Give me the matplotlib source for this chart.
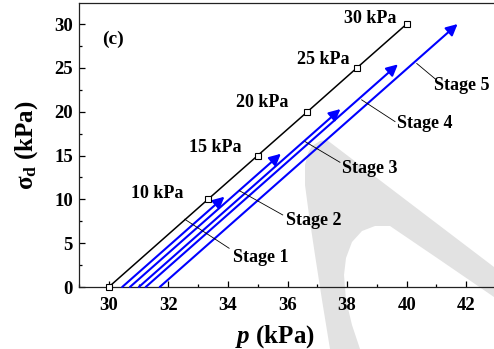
import matplotlib
matplotlib.use("Agg")
import matplotlib.pyplot as plt
from matplotlib.patches import PathPatch
from matplotlib.path import Path
from matplotlib.ticker import MultipleLocator

plt.rcParams["font.family"] = ["Liberation Serif", "DejaVu Serif"]
plt.rcParams["font.weight"] = "bold"
plt.rcParams["mathtext.fontset"] = "custom"
plt.rcParams["mathtext.rm"] = "Liberation Serif:bold"
plt.rcParams["mathtext.bf"] = "Liberation Serif:bold"
plt.rcParams["mathtext.it"] = "Liberation Serif:italic:bold"
plt.rcParams["mathtext.bfit"] = "Liberation Serif:italic:bold"

# failure line: p = sigma3 + sigma_d / 3
fail_p = [30.0, 33.33, 35.0, 36.67, 38.33, 40.0]
fail_q = [0, 10, 15, 20, 25, 30]
fail_labels = ["", "10 kPa", "15 kPa", "20 kPa", "25 kPa", "30 kPa"]

# loading stages (start p at sigma_d = 0, final sigma_d)
stage_names = ["Stage 1", "Stage 2", "Stage 3", "Stage 4", "Stage 5"]
stage_p0 = [30.45, 30.71, 31.01, 31.24, 31.71]
stage_qend = [10.3, 15.2, 20.3, 25.4, 30.0]

# label placement
kpa_xy = [None, (32.52, 10.7), (34.44, 15.9), (36.02, 21.0), (38.07, 25.9), (39.65, 30.6)]
leader_from = [(32.55, 7.73), (34.38, 11.0), (36.59, 16.59), (38.49, 21.35), (40.34, 25.5)]
leader_to = [(34.04, 4.42), (35.84, 8.22), (37.76, 14.23), (39.61, 18.87), (40.96, 23.74)]
stage_xy = [(34.16, 3.42), (35.95, 7.53), (37.84, 13.55), (39.67, 18.6), (40.93, 22.95)]

W, H = 494, 349
fig = plt.figure(figsize=(W / 100, H / 100), dpi=100)
ax = fig.add_axes([79 / W, 62 / H, 417 / W, 284 / H])
ax.set_facecolor("none")

# light grey background mark
mark_px = [(312, 146), (320, 141), (327, 140), (494, 267), (494, 297),
           (440, 260), (390, 226), (375, 226), (362, 231), (352, 242),
           (346, 258), (344, 275), (346, 300), (352, 325), (360, 349),
           (330, 349), (322, 300), (315, 255), (309, 215), (305, 185),
           (305, 165), (308, 153), (312, 146)]
verts = [(x / W, 1 - y / H) for x, y in mark_px]
codes = [Path.MOVETO] + [Path.LINETO] * (len(verts) - 2) + [Path.CLOSEPOLY]
fig.add_artist(PathPatch(Path(verts, codes), transform=fig.transFigure,
                         facecolor="#e2e2e2", edgecolor="none", zorder=-5))

ax.plot(fail_p, fail_q, color="black", lw=1.1, marker="s", ms=4.8,
        mfc="white", mec="black", mew=0.8, zorder=4, clip_on=False)
for lab, xy in zip(fail_labels, kpa_xy):
    if lab:
        ax.text(xy[0], xy[1], lab, ha="right", va="center", fontsize=13,
                fontweight="bold")

for p0, q1 in zip(stage_p0, stage_qend):
    ax.annotate("", xy=(p0 + q1 / 3, q1), xytext=(p0, 0),
                arrowprops=dict(arrowstyle="-|>", color="blue", lw=1.5,
                                mutation_scale=17, shrinkA=0, shrinkB=0),
                zorder=3)

for name, a, b, t in zip(stage_names, leader_from, leader_to, stage_xy):
    ax.plot([a[0], b[0]], [a[1], b[1]], color="black", lw=0.6, zorder=5)
    ax.text(t[0], t[1], name, ha="left", va="center", fontsize=13,
            fontweight="bold")

ax.text(29.76, 28.3, "(c)", ha="left", va="center", fontsize=14,
        fontweight="bold")

ax.set_xlim(29, 43)
ax.set_ylim(0, 32.4)
ax.xaxis.set_major_locator(MultipleLocator(2))
ax.xaxis.set_minor_locator(MultipleLocator(1))
ax.yaxis.set_major_locator(MultipleLocator(5))
ax.yaxis.set_minor_locator(MultipleLocator(2.5))
ax.tick_params(which="both", direction="in", labelsize=13.5, width=0.9,
               top=False, right=False)
ax.tick_params(which="major", length=4.5)
ax.tick_params(which="minor", length=2.5)
ax.tick_params(axis="x", pad=7)
ax.tick_params(axis="y", pad=4.5)
for s in ax.spines.values():
    s.set_linewidth(0.9)
    s.set_color("#222222")

ax.set_xlabel(r"$\mathbfit{p}$ (kPa)", fontsize=18, fontweight="bold",
              va="center")
ax.xaxis.set_label_coords(0.47, -0.176)
ax.set_ylabel(r"σ$_\mathbf{d}$ (kPa)", fontsize=18, fontweight="bold",
              va="center")
ax.yaxis.set_label_coords(-0.125, 0.5)

fig.savefig("out.png", dpi=100, facecolor="white")
